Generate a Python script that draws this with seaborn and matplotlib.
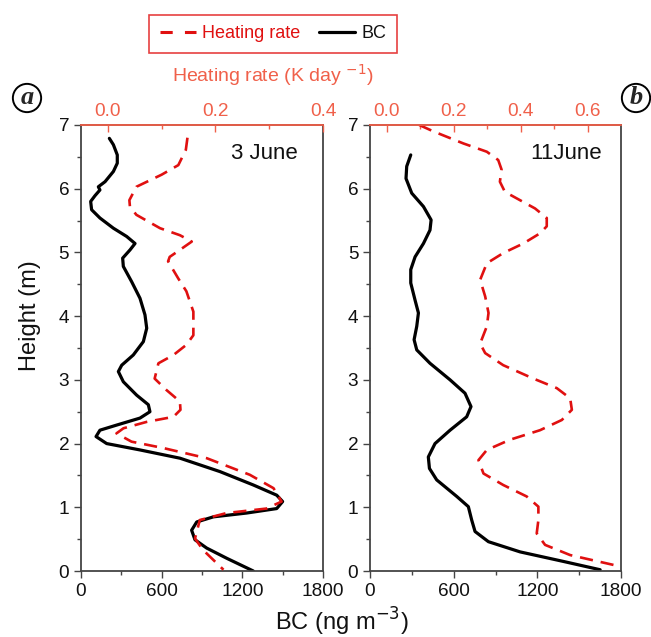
import matplotlib
matplotlib.use("Agg")
import matplotlib.pyplot as plt
from matplotlib.lines import Line2D
from matplotlib.ticker import MultipleLocator, FixedLocator
import seaborn as sns
import pandas as pd

sns.set_theme(style="white")
plt.rcParams["font.family"] = ["Liberation Sans", "DejaVu Sans"]

# ---- 3 June profiles ----
june3_bc_height = [6.79, 6.69, 6.53, 6.40, 6.27, 6.11, 6.03, 5.98, 5.89, 5.80, 5.67,
                   5.54, 5.38, 5.25, 5.14, 5.04, 4.91, 4.78, 4.54, 4.28, 4.02, 3.81,
                   3.60, 3.39, 3.23, 3.13, 2.97, 2.76, 2.61, 2.50, 2.40, 2.29, 2.21,
                   2.11, 2.00, 1.90, 1.77, 1.56, 1.35, 1.19, 1.09, 0.98, 0.91, 0.85,
                   0.77, 0.64, 0.49, 0.36, 0.20, 0.0]
june3_bc = [211, 241, 270, 270, 241, 179, 129, 141, 104, 72, 79,
            141, 241, 340, 402, 365, 310, 315, 377, 439, 476, 489,
            464, 389, 303, 278, 315, 414, 501, 513, 439, 265, 141,
            112, 191, 439, 737, 1034, 1282, 1456, 1500, 1456, 1233, 985,
            861, 823, 848, 935, 1084, 1282]

june3_hr_height = [6.80, 6.61, 6.37, 6.22, 6.03, 5.82, 5.72, 5.59, 5.38, 5.27, 5.17,
                   5.04, 4.93, 4.86, 4.59, 4.39, 4.07, 3.70, 3.55, 3.39, 3.26, 3.02,
                   2.84, 2.66, 2.53, 2.42, 2.34, 2.24, 2.16, 2.03, 1.93, 1.77, 1.51,
                   1.30, 1.09, 0.98, 0.91, 0.80, 0.51, 0.33, 0.02]
june3_hr = [0.148, 0.145, 0.131, 0.100, 0.053, 0.040, 0.041, 0.053, 0.097, 0.134, 0.156,
            0.134, 0.115, 0.112, 0.131, 0.146, 0.159, 0.159, 0.146, 0.122, 0.094, 0.087,
            0.109, 0.134, 0.135, 0.122, 0.072, 0.029, 0.016, 0.044, 0.103, 0.184, 0.264,
            0.308, 0.323, 0.295, 0.221, 0.171, 0.162, 0.177, 0.215]

# ---- 11 June profiles ----
june11_bc_height = [6.53, 6.35, 6.16, 5.93, 5.72, 5.51, 5.35, 5.14, 4.93, 4.73, 4.52,
                    4.25, 4.05, 3.84, 3.63, 3.47, 3.26, 3.00, 2.79, 2.58, 2.42, 2.21,
                    2.00, 1.79, 1.61, 1.43, 1.17, 1.01, 0.80, 0.62, 0.46, 0.30, 0.15,
                    0.02]
june11_bc = [292, 263, 258, 299, 383, 438, 430, 383, 323, 292, 292,
             323, 347, 335, 316, 335, 430, 574, 681, 724, 693, 574,
             466, 418, 426, 478, 622, 705, 729, 753, 849, 1076, 1387,
             1650]

june11_hr_height = [7.00, 6.90, 6.71, 6.58, 6.45, 6.30, 6.11, 5.95, 5.82, 5.69, 5.54,
                    5.41, 5.30, 5.14, 4.99, 4.83, 4.57, 4.31, 4.05, 3.84, 3.57, 3.42,
                    3.23, 3.02, 2.87, 2.71, 2.53, 2.37, 2.21, 2.06, 1.90, 1.74, 1.53,
                    1.35, 1.17, 1.01, 0.80, 0.59, 0.41, 0.25, 0.09]
june11_hr = [0.097, 0.139, 0.229, 0.299, 0.333, 0.343, 0.338, 0.353, 0.398, 0.443, 0.478,
             0.478, 0.458, 0.408, 0.348, 0.299, 0.279, 0.294, 0.304, 0.299, 0.279, 0.294,
             0.348, 0.438, 0.508, 0.548, 0.553, 0.523, 0.458, 0.368, 0.299, 0.274, 0.289,
             0.348, 0.418, 0.453, 0.453, 0.448, 0.473, 0.548, 0.682]

panels = [
    dict(name="3 June", bc=june3_bc, bch=june3_bc_height, hr=june3_hr, hrh=june3_hr_height,
         hr_lim=(-0.05, 0.4), hr_major=[0.0, 0.2, 0.4], hr_minor=[0.1, 0.3], name_x=0.897),
    dict(name="11June", bc=june11_bc, bch=june11_bc_height, hr=june11_hr, hrh=june11_hr_height,
         hr_lim=(-0.05, 0.7), hr_major=[0.0, 0.2, 0.4, 0.6], hr_minor=[0.1, 0.3, 0.5], name_x=0.924),
]

RED = "#e01010"
SALMON = "#f0604a"
GRAY = "#444444"
TICK_FS = 13.7
LABEL_FS = 17

fig = plt.figure(figsize=(6.51, 6.37), dpi=100)
rects = [[0.1244, 0.1036, 0.3717, 0.7002], [0.5684, 0.1036, 0.3856, 0.7002]]

for rect, p in zip(rects, panels):
    ax = fig.add_axes(rect)
    bc_df = pd.DataFrame({"BC": p["bc"], "Height": p["bch"]})
    sns.lineplot(data=bc_df, x="BC", y="Height", sort=False, estimator=None,
                 color="black", lw=2.3, ax=ax)
    ax.lines[0].set_solid_joinstyle("round")
    ax.set_xlim(0, 1800)
    ax.set_ylim(0, 7)
    ax.xaxis.set_major_locator(FixedLocator([0, 600, 1200, 1800]))
    ax.xaxis.set_minor_locator(FixedLocator([300, 900, 1500]))
    ax.yaxis.set_major_locator(MultipleLocator(1))
    ax.yaxis.set_minor_locator(MultipleLocator(0.5))
    ax.tick_params(which="both", direction="out", colors=GRAY, labelcolor="#111111",
                   labelsize=TICK_FS, bottom=True, left=True)
    ax.tick_params(which="major", length=5, width=1)
    ax.tick_params(which="minor", length=3, width=1)
    ax.set_xlabel("")
    ax.set_ylabel("")
    for s in ["left", "bottom", "right"]:
        ax.spines[s].set_color(GRAY)
        ax.spines[s].set_linewidth(1.3)

    ax2 = ax.twiny()
    hr_df = pd.DataFrame({"HR": p["hr"], "Height": p["hrh"]})
    sns.lineplot(data=hr_df, x="HR", y="Height", sort=False, estimator=None,
                 color=RED, lw=1.9, ax=ax2)
    ax2.lines[0].set_dashes((5, 3))
    ax2.lines[0].set_dash_joinstyle("round")
    ax2.set_xlim(*p["hr_lim"])
    ax2.set_ylim(0, 7)
    ax2.xaxis.set_major_locator(FixedLocator(p["hr_major"]))
    ax2.xaxis.set_minor_locator(FixedLocator(p["hr_minor"]))
    ax2.xaxis.set_major_formatter(plt.FuncFormatter(lambda v, pos: f"{v:.1f}"))
    ax2.tick_params(which="both", direction="in", colors=SALMON, labelcolor=SALMON,
                    labelsize=TICK_FS, top=True)
    ax2.tick_params(which="major", length=5, width=1)
    ax2.tick_params(which="minor", length=3, width=1)
    ax2.set_xlabel("")
    ax2.set_ylabel("")
    ax2.spines["top"].set_color(SALMON)
    ax2.spines["top"].set_linewidth(1.3)
    for s in ["left", "bottom", "right"]:
        ax2.spines[s].set_visible(False)

    ax.text(p["name_x"], 0.935, p["name"], transform=ax.transAxes, ha="right", va="center",
            fontsize=16, color="#111111")

# Panel letters in circles
for xf, letter in [(27 / 651, "a"), (636 / 651, "b")]:
    fig.text(xf, 1 - 98 / 637, letter, ha="center", va="center", fontsize=19,
             family=["Liberation Serif", "DejaVu Serif"], style="italic", weight="bold",
             bbox=dict(boxstyle="circle,pad=0.1", fc="white", ec="black", lw=1.4))

# Axis titles
fig.text(273 / 651, 1 - 75 / 637, "Heating rate (K day $^{-1}$)", ha="center", va="center",
         fontsize=14, color=SALMON)
fig.text(342 / 651, 1 - 622 / 637, "BC (ng m$^{-3}$)", ha="center", va="center",
         fontsize=LABEL_FS, color="#111111")
fig.text(30 / 651, 1 - 316 / 637, "Height (m)", ha="center", va="center",
         rotation=90, fontsize=LABEL_FS, color="#111111")

# Shared legend
handles = [Line2D([0], [0], color=RED, lw=2.2, dashes=(4, 4)),
           Line2D([0], [0], color="black", lw=2.3)]
leg = fig.legend(handles, ["Heating rate", "BC"], loc="center",
                 bbox_to_anchor=(273 / 651, 1 - 34 / 637), ncol=2, frameon=True,
                 fancybox=False, fontsize=13, handlelength=2.0, handletextpad=0.35,
                 columnspacing=1.0, borderpad=0.6)
leg.get_frame().set_edgecolor(RED)
leg.get_frame().set_linewidth(1.2)
leg.get_texts()[0].set_color(RED)
leg.get_texts()[1].set_color("#111111")

fig.savefig("out.png", dpi=100)
